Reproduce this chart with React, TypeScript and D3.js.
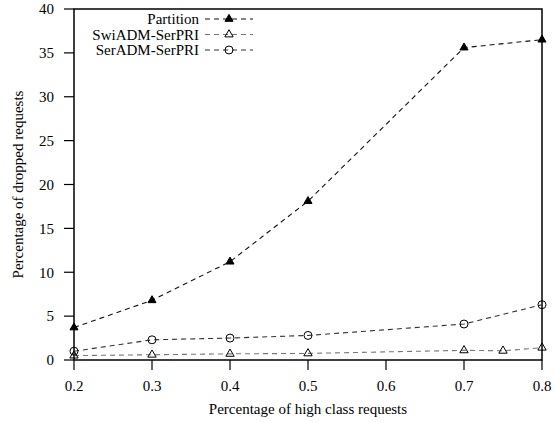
import React from 'react';
import * as d3 from 'd3';

const xPartition = [0.2, 0.3, 0.4, 0.5, 0.7, 0.8];
const yPartition = [3.7, 6.8, 11.2, 18.1, 35.6, 36.5];

const xSwi = [0.2, 0.3, 0.4, 0.5, 0.7, 0.75, 0.8];
const ySwi = [0.5, 0.6, 0.7, 0.75, 1.1, 1.05, 1.4];

const xSer = [0.2, 0.3, 0.4, 0.5, 0.7, 0.8];
const ySer = [1.0, 2.3, 2.5, 2.8, 4.1, 6.3];

const xTicks = [0.2, 0.3, 0.4, 0.5, 0.6, 0.7, 0.8];
const yTicks = [0, 5, 10, 15, 20, 25, 30, 35, 40];

const seriesNames = ['Partition', 'SwiADM-SerPRI', 'SerADM-SerPRI'];

const W = 556;
const H = 422;
const margin = { top: 9, right: 14, bottom: 62, left: 74 };
const FONT = "'Liberation Serif', 'DejaVu Serif', serif";
const FS = 15;

type Marker = 'filledTri' | 'openTri' | 'circle';

function MarkerShape({ kind, x, y }: { kind: Marker; x: number; y: number }) {
  if (kind === 'circle') {
    return <circle cx={x} cy={y} r={4} fill="none" stroke="#000" strokeWidth={1} />;
  }
  const s = d3.symbol().type(d3.symbolTriangle).size(kind === 'filledTri' ? 28 : 30)();
  return (
    <path
      d={s || ''}
      transform={`translate(${x},${y})`}
      fill={kind === 'filledTri' ? '#000' : 'none'}
      stroke="#000"
      strokeWidth={1}
    />
  );
}

export default function App() {
  const iw = W - margin.left - margin.right;
  const ih = H - margin.top - margin.bottom;
  const x = d3.scaleLinear().domain([0.2, 0.8]).range([margin.left, margin.left + iw]);
  const y = d3.scaleLinear().domain([0, 40]).range([margin.top + ih, margin.top]);

  const line = d3.line<[number, number]>().x(d => x(d[0])).y(d => y(d[1]));

  const series = [
    { name: seriesNames[0], xs: xPartition, ys: yPartition, marker: 'filledTri' as Marker, color: '#111' },
    { name: seriesNames[1], xs: xSwi, ys: ySwi, marker: 'openTri' as Marker, color: '#777' },
    { name: seriesNames[2], xs: xSer, ys: ySer, marker: 'circle' as Marker, color: '#333' },
  ];

  const x0 = margin.left;
  const x1 = margin.left + iw;
  const y0 = margin.top + ih;
  const y1 = margin.top;

  return (
    <svg width={W} height={H} style={{ position: 'absolute', left: 0, top: 0, background: '#fff', fontFamily: FONT }}>
      <rect x={0} y={0} width={W} height={H} fill="#fff" />
      {/* frame */}
      <rect x={x0} y={y1} width={iw} height={ih} fill="none" stroke="#000" strokeWidth={1.5} />
      {/* y ticks */}
      {yTicks.map(t => (
        <g key={'y' + t}>
          <line x1={x0 - 10} x2={x0} y1={y(t)} y2={y(t)} stroke="#000" strokeWidth={1.2} />
          <text x={x0 - 20} y={y(t)} dy="0.35em" textAnchor="end" fontSize={FS}>{t}</text>
        </g>
      ))}
      {/* x ticks */}
      {xTicks.map(t => (
        <g key={'x' + t}>
          <line x1={x(t)} x2={x(t)} y1={y0} y2={y0 + 10} stroke="#000" strokeWidth={1.2} />
          <text x={x(t)} y={y0 + 26} dy="0.35em" textAnchor="middle" fontSize={FS}>{t.toFixed(1)}</text>
        </g>
      ))}
      <text x={(x0 + x1) / 2} y={y0 + 49} dy="0.35em" textAnchor="middle" fontSize={FS}>
        Percentage of high class requests
      </text>
      <text
        transform={`translate(18,${(y0 + y1) / 2}) rotate(-90)`}
        dy="0.35em"
        textAnchor="middle"
        fontSize={FS}
      >
        Percentage of dropped requests
      </text>
      {/* lines */}
      {series.map(s => (
        <g key={s.name}>
          <path
            d={line(s.xs.map((v, i) => [v, s.ys[i]] as [number, number])) || ''}
            fill="none"
            stroke={s.color}
            strokeWidth={1.1}
            strokeDasharray="5,4"
          />
          {s.xs.map((v, i) => (
            <MarkerShape key={i} kind={s.marker} x={x(v)} y={y(s.ys[i])} />
          ))}
        </g>
      ))}
      {/* legend */}
      {series.map((s, i) => {
        const ly = 19 + i * 15.5;
        return (
          <g key={'l' + s.name}>
            <text x={199} y={ly} dy="0.35em" textAnchor="end" fontSize={FS}>{s.name}</text>
            <line x1={205} x2={253} y1={ly} y2={ly} stroke={s.color} strokeWidth={1.1} strokeDasharray="5,4" />
            <MarkerShape kind={s.marker} x={229} y={ly} />
          </g>
        );
      })}
    </svg>
  );
}
